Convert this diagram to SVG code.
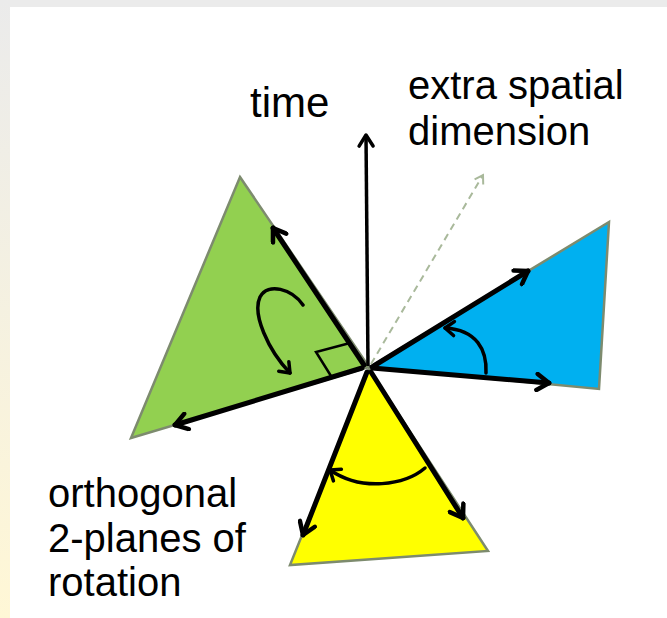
<svg xmlns="http://www.w3.org/2000/svg" width="667" height="618" viewBox="0 0 667 618">
<defs>
<linearGradient id="strip" x1="0" y1="0" x2="0" y2="1">
<stop offset="0" stop-color="#ebebeb"/>
<stop offset="1" stop-color="#fff7d6"/>
</linearGradient>
<marker id="ah" markerUnits="userSpaceOnUse" viewBox="0 0 20 20" markerWidth="20" markerHeight="20" refX="17" refY="10" orient="auto">
<path d="M5,2 L17,10 L5,18" fill="none" stroke="#000" stroke-width="4.5" stroke-linecap="round" stroke-linejoin="round"/>
</marker>
<marker id="aht" markerUnits="userSpaceOnUse" viewBox="0 0 20 20" markerWidth="20" markerHeight="20" refX="17" refY="10" orient="auto">
<path d="M6,3 L17,10 L6,17" fill="none" stroke="#000" stroke-width="3.5" stroke-linecap="round" stroke-linejoin="round"/>
</marker>
<marker id="ahs" markerUnits="userSpaceOnUse" viewBox="0 0 20 20" markerWidth="20" markerHeight="20" refX="16" refY="10" orient="auto">
<path d="M7,3 L16,10 L7,17" fill="none" stroke="#000" stroke-width="3.5" stroke-linecap="round" stroke-linejoin="round"/>
</marker>
<marker id="ahd" markerUnits="userSpaceOnUse" viewBox="0 0 16 16" markerWidth="16" markerHeight="16" refX="13" refY="8" orient="auto">
<path d="M5,3 L13,8 L5,13" fill="none" stroke="#a9b99b" stroke-width="2"/>
</marker>
</defs>
<style>
.lbl{font-family:"Liberation Sans",Arial,sans-serif;font-size:40px;fill:#000}
.tri{stroke:#7d8b6e;stroke-width:2.5;stroke-linejoin:miter}
.edge{fill:none;stroke:#000;stroke-width:5;stroke-linecap:round;marker-end:url(#ah)}
.rot{fill:none;stroke:#000;stroke-width:3.5;stroke-linecap:round;marker-end:url(#ahs)}
</style>
<rect x="0" y="0" width="667" height="618" fill="#fff"/>
<rect x="0" y="0" width="667" height="7" fill="#ebebeb"/>
<rect x="0" y="0" width="10" height="618" fill="url(#strip)"/>

<g id="green-plane">
<polygon class="tri" points="240,177 369,367 131,438" fill="#92d050"/>
<path class="edge" d="M364,365 L273,228"/>
<path class="edge" d="M362,368 L175,425"/>
<polyline points="331,376 316,352 350,343" fill="none" stroke="#000" stroke-width="2.5"/>
<path class="rot" d="M303,305 C292,289 268,282 260,297 C252,314 268,350 290,373"/>
</g>

<g id="blue-plane">
<polygon class="tri" points="370,367 609,222 599,389" fill="#00b0f0"/>
<path class="edge" d="M372,367 L528,271"/>
<path class="edge" d="M372,368 L549,383"/>
<path class="rot" d="M486,373 C487,350 477,330 445,328"/>
</g>

<g id="yellow-plane">
<polygon class="tri" points="369,369 290,565 488,551" fill="#ffff00"/>
<path class="edge" d="M367,372 L303,535"/>
<path class="edge" d="M371,372 L463,518"/>
<path class="rot" d="M425,468 C405,485 362,492 330,470"/>
</g>

<g id="connectors">
<path d="M368,366 L366,135" fill="none" stroke="#000" stroke-width="3.5" marker-end="url(#aht)"/>
<path d="M371,364 L483,175" fill="none" stroke="#a9b99b" stroke-width="2" stroke-dasharray="7,5" marker-end="url(#ahd)"/>
</g>

<g id="labels">
<text class="lbl" x="250" y="117" style="font-size:42px">time</text>
<text class="lbl" x="408" y="99">extra spatial</text>
<text class="lbl" x="408" y="145">dimension</text>
<text class="lbl" x="48" y="507">orthogonal</text>
<text class="lbl" x="48" y="552">2-planes of</text>
<text class="lbl" x="48" y="596">rotation</text>
</g>
</svg>
